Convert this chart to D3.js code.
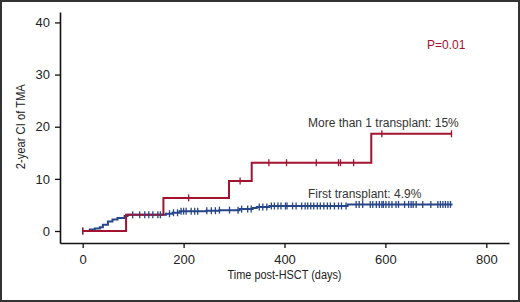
<!DOCTYPE html>
<html>
<head>
<meta charset="utf-8">
<script src="https://cdn.jsdelivr.net/npm/d3@7"></script>
<style>
  body { margin: 0; background: #fff; }
  svg { display: block; font-family: "Liberation Sans", Arial, sans-serif; }
</style>
</head>
<body>
<div id="chart"></div>
<script>
// data (days, cumulative incidence %)
var redTimes = [0, 86, 160, 290, 335, 572];
var redValues = [0, 3.1, 6.35, 9.6, 13.1, 18.65];
var redEnd = 731;
var redCensor = [0, 210, 312, 369, 404, 463, 507, 511, 537, 593, 731];

var blueTimes = [0, 14, 24, 34, 40, 50, 59, 69, 83, 89, 165, 178, 192, 245, 271, 311, 337, 345, 370, 525];
var blueValues = [0, 0.3, 0.5, 0.7, 1.2, 1.8, 2.2, 2.5, 2.9, 3.1, 3.3, 3.5, 3.8, 3.9, 4.0, 4.2, 4.4, 4.6, 4.8, 5.1];
var blueEnd = 733;
var blueCensor = [0, 99, 113, 123, 131, 139, 149, 154, 172, 180, 188, 195, 200, 205, 215, 222, 228, 246, 255, 263, 271,
  291, 308, 315, 327, 334, 350, 357, 365, 374, 380, 387, 393, 402, 405, 416, 423, 434, 441, 446, 452, 458, 465, 471,
  478, 485, 491, 499, 507, 513, 522, 542, 548, 555, 570, 575, 582, 588, 593, 596, 601, 607, 613, 621, 626, 638, 646,
  651, 655, 661, 674, 690, 704, 709, 714, 719, 724, 729];

var xTicks = [0, 200, 400, 600, 800];
var yTicks = [0, 10, 20, 30, 40];
var labels = ["More than 1 transplant: 15%", "First transplant: 4.9%", "P=0.01"];

var width = 520, height = 302;
var red = "#a3132f", blue = "#27468a";

var svg = d3.select("#chart")
  .append("svg")
    .attr("width", width)
    .attr("height", height);

// outer frame
svg.append("rect")
  .attr("x", 1).attr("y", 1)
  .attr("width", width - 2).attr("height", height - 2)
  .attr("fill", "none")
  .attr("stroke", "#333")
  .attr("stroke-width", 2);

// scales (axes extend beyond the data range, like the original)
var x = d3.scaleLinear().domain([-45, 845]).range([60, 509]);
var y = d3.scaleLinear().domain([-2.3, 42]).range([243, 12]);

var xAxis = svg.append("g")
  .attr("transform", "translate(0,243)")
  .call(d3.axisBottom(x).tickValues(xTicks).tickSize(5).tickSizeOuter(0).tickPadding(7));
var yAxis = svg.append("g")
  .attr("transform", "translate(60,0)")
  .call(d3.axisLeft(y).tickValues(yTicks).tickSize(5).tickSizeOuter(0).tickPadding(5));

[xAxis, yAxis].forEach(function(a) {
  a.select(".domain").attr("stroke", "#111").attr("stroke-width", 1.6);
  a.selectAll(".tick line").attr("stroke", "#111").attr("stroke-width", 1.3);
  a.selectAll("text")
    .attr("fill", "#222")
    .style("font-size", "13px")
    .style("font-family", "'Liberation Sans', Arial, sans-serif");
});

// axis titles (condensed look)
svg.append("text")
  .attr("x", x(400))
  .attr("y", 278.5)
  .attr("text-anchor", "middle")
  .attr("textLength", 114)
  .attr("lengthAdjust", "spacingAndGlyphs")
  .style("font-size", "12px")
  .attr("fill", "#222")
  .text("Time post-HSCT (days)");

svg.append("text")
  .attr("transform", "translate(25," + y(20) + ") rotate(-90)")
  .attr("text-anchor", "middle")
  .attr("textLength", 85)
  .attr("lengthAdjust", "spacingAndGlyphs")
  .style("font-size", "12.5px")
  .attr("fill", "#222")
  .text("2-year CI of TMA");

function stepPoints(times, values, end) {
  var pts = times.map(function(t, i) { return [t, values[i]]; });
  pts.push([end, values[values.length - 1]]);
  return pts;
}
function valueAt(times, values, t) {
  var i = d3.bisectRight(times, t) - 1;
  return values[Math.max(0, i)];
}

var line = d3.line()
  .x(function(d) { return x(d[0]); })
  .y(function(d) { return y(d[1]); })
  .curve(d3.curveStepAfter);

svg.append("path")
  .datum(stepPoints(blueTimes, blueValues, blueEnd))
  .attr("fill", "none")
  .attr("stroke", blue)
  .attr("stroke-width", 2)
  .attr("d", line);

svg.append("path")
  .datum(stepPoints(redTimes, redValues, redEnd))
  .attr("fill", "none")
  .attr("stroke", red)
  .attr("stroke-width", 2)
  .attr("d", line);

// censor marks
svg.selectAll(".bc")
  .data(blueCensor)
  .enter()
  .append("line")
    .attr("x1", function(d) { return x(d); })
    .attr("x2", function(d) { return x(d); })
    .attr("y1", function(d) { return y(valueAt(blueTimes, blueValues, d)) - 3.5; })
    .attr("y2", function(d) { return y(valueAt(blueTimes, blueValues, d)) + 3.5; })
    .attr("stroke", blue)
    .attr("stroke-width", 1.3);

svg.selectAll(".rc")
  .data(redCensor)
  .enter()
  .append("line")
    .attr("x1", function(d) { return x(d); })
    .attr("x2", function(d) { return x(d); })
    .attr("y1", function(d) { return y(valueAt(redTimes, redValues, d)) - 3.5; })
    .attr("y2", function(d) { return y(valueAt(redTimes, redValues, d)) + 3.5; })
    .attr("stroke", red)
    .attr("stroke-width", 1.3);

// annotations
svg.append("text")
  .attr("x", 308).attr("y", 126.5)
  .style("font-size", "12px")
  .attr("fill", "#333")
  .text(labels[0]);

svg.append("text")
  .attr("x", 308).attr("y", 197.5)
  .style("font-size", "12px")
  .attr("fill", "#333")
  .text(labels[1]);

svg.append("text")
  .attr("x", 427).attr("y", 48.5)
  .style("font-size", "12px")
  .attr("fill", red)
  .text(labels[2]);
</script>
</body>
</html>
